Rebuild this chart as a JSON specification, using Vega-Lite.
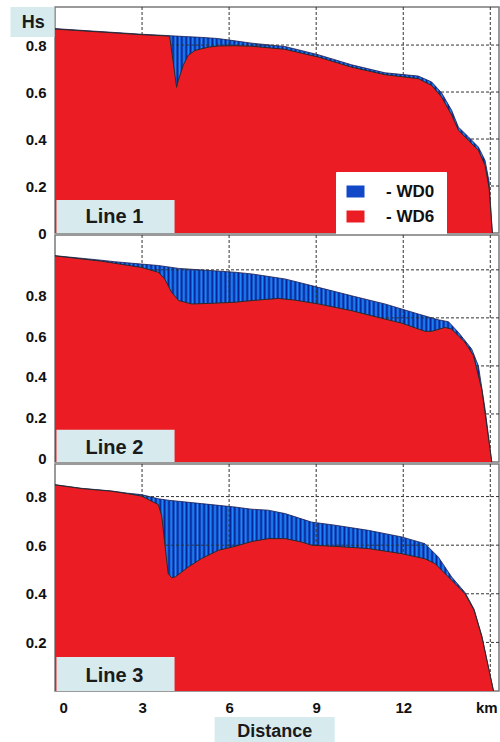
{
  "$schema": "https://vega.github.io/schema/vega-lite/v6.json",
  "padding": {"left": 9, "top": 5, "right": 3, "bottom": 0},
  "background": "white",
  "config": {
    "font": "Liberation Sans",
    "view": {"stroke": "#7a7a7a", "strokeWidth": 1.5},
    "axis": {"labelFont": "Liberation Sans", "labelFontSize": 15, "labelFontWeight": "bold", "labelColor": "#111111", "domain": false, "ticks": false, "grid": false},
    "area": {"opacity": 1, "fill": {"gradient": "linear", "x1": 0, "y1": 0, "x2": 1, "y2": 0, "stops": [
      {"offset":0,"color":"#0a1f94"},{"offset":0.005,"color":"#1e8cff"},{"offset":0.01,"color":"#0a1f94"},{"offset":0.015,"color":"#1e8cff"},
      {"offset":0.02,"color":"#0a1f94"},{"offset":0.025,"color":"#1e8cff"},{"offset":0.03,"color":"#0a1f94"},{"offset":0.035,"color":"#1e8cff"},
      {"offset":0.04,"color":"#0a1f94"},{"offset":0.045,"color":"#1e8cff"},{"offset":0.05,"color":"#0a1f94"},{"offset":0.055,"color":"#1e8cff"},
      {"offset":0.06,"color":"#0a1f94"},{"offset":0.065,"color":"#1e8cff"},{"offset":0.07,"color":"#0a1f94"},{"offset":0.075,"color":"#1e8cff"},
      {"offset":0.08,"color":"#0a1f94"},{"offset":0.085,"color":"#1e8cff"},{"offset":0.09,"color":"#0a1f94"},{"offset":0.095,"color":"#1e8cff"},
      {"offset":0.1,"color":"#0a1f94"},{"offset":0.105,"color":"#1e8cff"},{"offset":0.11,"color":"#0a1f94"},{"offset":0.115,"color":"#1e8cff"},
      {"offset":0.12,"color":"#0a1f94"},{"offset":0.125,"color":"#1e8cff"},{"offset":0.13,"color":"#0a1f94"},{"offset":0.135,"color":"#1e8cff"},
      {"offset":0.14,"color":"#0a1f94"},{"offset":0.145,"color":"#1e8cff"},{"offset":0.15,"color":"#0a1f94"},{"offset":0.155,"color":"#1e8cff"},
      {"offset":0.16,"color":"#0a1f94"},{"offset":0.165,"color":"#1e8cff"},{"offset":0.17,"color":"#0a1f94"},{"offset":0.175,"color":"#1e8cff"},
      {"offset":0.18,"color":"#0a1f94"},{"offset":0.185,"color":"#1e8cff"},{"offset":0.19,"color":"#0a1f94"},{"offset":0.195,"color":"#1e8cff"},
      {"offset":0.2,"color":"#0a1f94"},{"offset":0.205,"color":"#1e8cff"},{"offset":0.21,"color":"#0a1f94"},{"offset":0.215,"color":"#1e8cff"},
      {"offset":0.22,"color":"#0a1f94"},{"offset":0.225,"color":"#1e8cff"},{"offset":0.23,"color":"#0a1f94"},{"offset":0.235,"color":"#1e8cff"},
      {"offset":0.24,"color":"#0a1f94"},{"offset":0.245,"color":"#1e8cff"},{"offset":0.25,"color":"#0a1f94"},{"offset":0.255,"color":"#1e8cff"},
      {"offset":0.26,"color":"#0a1f94"},{"offset":0.265,"color":"#1e8cff"},{"offset":0.27,"color":"#0a1f94"},{"offset":0.275,"color":"#1e8cff"},
      {"offset":0.28,"color":"#0a1f94"},{"offset":0.285,"color":"#1e8cff"},{"offset":0.29,"color":"#0a1f94"},{"offset":0.295,"color":"#1e8cff"},
      {"offset":0.3,"color":"#0a1f94"},{"offset":0.305,"color":"#1e8cff"},{"offset":0.31,"color":"#0a1f94"},{"offset":0.315,"color":"#1e8cff"},
      {"offset":0.32,"color":"#0a1f94"},{"offset":0.325,"color":"#1e8cff"},{"offset":0.33,"color":"#0a1f94"},{"offset":0.335,"color":"#1e8cff"},
      {"offset":0.34,"color":"#0a1f94"},{"offset":0.345,"color":"#1e8cff"},{"offset":0.35,"color":"#0a1f94"},{"offset":0.355,"color":"#1e8cff"},
      {"offset":0.36,"color":"#0a1f94"},{"offset":0.365,"color":"#1e8cff"},{"offset":0.37,"color":"#0a1f94"},{"offset":0.375,"color":"#1e8cff"},
      {"offset":0.38,"color":"#0a1f94"},{"offset":0.385,"color":"#1e8cff"},{"offset":0.39,"color":"#0a1f94"},{"offset":0.395,"color":"#1e8cff"},
      {"offset":0.4,"color":"#0a1f94"},{"offset":0.405,"color":"#1e8cff"},{"offset":0.41,"color":"#0a1f94"},{"offset":0.415,"color":"#1e8cff"},
      {"offset":0.42,"color":"#0a1f94"},{"offset":0.425,"color":"#1e8cff"},{"offset":0.43,"color":"#0a1f94"},{"offset":0.435,"color":"#1e8cff"},
      {"offset":0.44,"color":"#0a1f94"},{"offset":0.445,"color":"#1e8cff"},{"offset":0.45,"color":"#0a1f94"},{"offset":0.455,"color":"#1e8cff"},
      {"offset":0.46,"color":"#0a1f94"},{"offset":0.465,"color":"#1e8cff"},{"offset":0.47,"color":"#0a1f94"},{"offset":0.475,"color":"#1e8cff"},
      {"offset":0.48,"color":"#0a1f94"},{"offset":0.485,"color":"#1e8cff"},{"offset":0.49,"color":"#0a1f94"},{"offset":0.495,"color":"#1e8cff"},
      {"offset":0.5,"color":"#0a1f94"},{"offset":0.505,"color":"#1e8cff"},{"offset":0.51,"color":"#0a1f94"},{"offset":0.515,"color":"#1e8cff"},
      {"offset":0.52,"color":"#0a1f94"},{"offset":0.525,"color":"#1e8cff"},{"offset":0.53,"color":"#0a1f94"},{"offset":0.535,"color":"#1e8cff"},
      {"offset":0.54,"color":"#0a1f94"},{"offset":0.545,"color":"#1e8cff"},{"offset":0.55,"color":"#0a1f94"},{"offset":0.555,"color":"#1e8cff"},
      {"offset":0.56,"color":"#0a1f94"},{"offset":0.565,"color":"#1e8cff"},{"offset":0.57,"color":"#0a1f94"},{"offset":0.575,"color":"#1e8cff"},
      {"offset":0.58,"color":"#0a1f94"},{"offset":0.585,"color":"#1e8cff"},{"offset":0.59,"color":"#0a1f94"},{"offset":0.595,"color":"#1e8cff"},
      {"offset":0.6,"color":"#0a1f94"},{"offset":0.605,"color":"#1e8cff"},{"offset":0.61,"color":"#0a1f94"},{"offset":0.615,"color":"#1e8cff"},
      {"offset":0.62,"color":"#0a1f94"},{"offset":0.625,"color":"#1e8cff"},{"offset":0.63,"color":"#0a1f94"},{"offset":0.635,"color":"#1e8cff"},
      {"offset":0.64,"color":"#0a1f94"},{"offset":0.645,"color":"#1e8cff"},{"offset":0.65,"color":"#0a1f94"},{"offset":0.655,"color":"#1e8cff"},
      {"offset":0.66,"color":"#0a1f94"},{"offset":0.665,"color":"#1e8cff"},{"offset":0.67,"color":"#0a1f94"},{"offset":0.675,"color":"#1e8cff"},
      {"offset":0.68,"color":"#0a1f94"},{"offset":0.685,"color":"#1e8cff"},{"offset":0.69,"color":"#0a1f94"},{"offset":0.695,"color":"#1e8cff"},
      {"offset":0.7,"color":"#0a1f94"},{"offset":0.705,"color":"#1e8cff"},{"offset":0.71,"color":"#0a1f94"},{"offset":0.715,"color":"#1e8cff"},
      {"offset":0.72,"color":"#0a1f94"},{"offset":0.725,"color":"#1e8cff"},{"offset":0.73,"color":"#0a1f94"},{"offset":0.735,"color":"#1e8cff"},
      {"offset":0.74,"color":"#0a1f94"},{"offset":0.745,"color":"#1e8cff"},{"offset":0.75,"color":"#0a1f94"},{"offset":0.755,"color":"#1e8cff"},
      {"offset":0.76,"color":"#0a1f94"},{"offset":0.765,"color":"#1e8cff"},{"offset":0.77,"color":"#0a1f94"},{"offset":0.775,"color":"#1e8cff"},
      {"offset":0.78,"color":"#0a1f94"},{"offset":0.785,"color":"#1e8cff"},{"offset":0.79,"color":"#0a1f94"},{"offset":0.795,"color":"#1e8cff"},
      {"offset":0.8,"color":"#0a1f94"},{"offset":0.805,"color":"#1e8cff"},{"offset":0.81,"color":"#0a1f94"},{"offset":0.815,"color":"#1e8cff"},
      {"offset":0.82,"color":"#0a1f94"},{"offset":0.825,"color":"#1e8cff"},{"offset":0.83,"color":"#0a1f94"},{"offset":0.835,"color":"#1e8cff"},
      {"offset":0.84,"color":"#0a1f94"},{"offset":0.845,"color":"#1e8cff"},{"offset":0.85,"color":"#0a1f94"},{"offset":0.855,"color":"#1e8cff"},
      {"offset":0.86,"color":"#0a1f94"},{"offset":0.865,"color":"#1e8cff"},{"offset":0.87,"color":"#0a1f94"},{"offset":0.875,"color":"#1e8cff"},
      {"offset":0.88,"color":"#0a1f94"},{"offset":0.885,"color":"#1e8cff"},{"offset":0.89,"color":"#0a1f94"},{"offset":0.895,"color":"#1e8cff"},
      {"offset":0.9,"color":"#0a1f94"},{"offset":0.905,"color":"#1e8cff"},{"offset":0.91,"color":"#0a1f94"},{"offset":0.915,"color":"#1e8cff"},
      {"offset":0.92,"color":"#0a1f94"},{"offset":0.925,"color":"#1e8cff"},{"offset":0.93,"color":"#0a1f94"},{"offset":0.935,"color":"#1e8cff"},
      {"offset":0.94,"color":"#0a1f94"},{"offset":0.945,"color":"#1e8cff"},{"offset":0.95,"color":"#0a1f94"},{"offset":0.955,"color":"#1e8cff"},
      {"offset":0.96,"color":"#0a1f94"},{"offset":0.965,"color":"#1e8cff"},{"offset":0.97,"color":"#0a1f94"},{"offset":0.975,"color":"#1e8cff"},
      {"offset":0.98,"color":"#0a1f94"},{"offset":0.985,"color":"#1e8cff"},{"offset":0.99,"color":"#0a1f94"},{"offset":0.995,"color":"#1e8cff"},
      {"offset":1,"color":"#0a1f94"}
    ]}}
  },
  "datasets": {
    "hs": [
      {"line":"Line 1","s":"WD0","km":0,"hs":0.870},{"line":"Line 1","s":"WD0","km":1,"hs":0.862},{"line":"Line 1","s":"WD0","km":2,"hs":0.854},
      {"line":"Line 1","s":"WD0","km":3,"hs":0.846},{"line":"Line 1","s":"WD0","km":3.95,"hs":0.840},{"line":"Line 1","s":"WD0","km":4.5,"hs":0.836},
      {"line":"Line 1","s":"WD0","km":5.0,"hs":0.833},{"line":"Line 1","s":"WD0","km":5.6,"hs":0.828},{"line":"Line 1","s":"WD0","km":6.2,"hs":0.818},
      {"line":"Line 1","s":"WD0","km":6.78,"hs":0.808},{"line":"Line 1","s":"WD0","km":7.92,"hs":0.794},{"line":"Line 1","s":"WD0","km":9.07,"hs":0.759},
      {"line":"Line 1","s":"WD0","km":10.22,"hs":0.716},{"line":"Line 1","s":"WD0","km":11.37,"hs":0.682},{"line":"Line 1","s":"WD0","km":12.52,"hs":0.668},
      {"line":"Line 1","s":"WD0","km":12.98,"hs":0.643},{"line":"Line 1","s":"WD0","km":13.32,"hs":0.597},{"line":"Line 1","s":"WD0","km":13.67,"hs":0.522},
      {"line":"Line 1","s":"WD0","km":13.9,"hs":0.451},{"line":"Line 1","s":"WD0","km":14.25,"hs":0.409},{"line":"Line 1","s":"WD0","km":14.59,"hs":0.366},
      {"line":"Line 1","s":"WD0","km":14.82,"hs":0.309},{"line":"Line 1","s":"WD0","km":14.96,"hs":0.217},{"line":"Line 1","s":"WD0","km":15.07,"hs":0},

      {"line":"Line 1","s":"WD6","km":0,"hs":0.868},{"line":"Line 1","s":"WD6","km":1,"hs":0.860},{"line":"Line 1","s":"WD6","km":2,"hs":0.852},
      {"line":"Line 1","s":"WD6","km":3,"hs":0.844},{"line":"Line 1","s":"WD6","km":3.95,"hs":0.838},{"line":"Line 1","s":"WD6","km":4.19,"hs":0.62},
      {"line":"Line 1","s":"WD6","km":4.25,"hs":0.65},{"line":"Line 1","s":"WD6","km":4.42,"hs":0.714},{"line":"Line 1","s":"WD6","km":4.59,"hs":0.756},
      {"line":"Line 1","s":"WD6","km":4.82,"hs":0.777},{"line":"Line 1","s":"WD6","km":5.28,"hs":0.791},{"line":"Line 1","s":"WD6","km":5.63,"hs":0.796},
      {"line":"Line 1","s":"WD6","km":6.2,"hs":0.797},{"line":"Line 1","s":"WD6","km":6.78,"hs":0.795},{"line":"Line 1","s":"WD6","km":7.92,"hs":0.782},
      {"line":"Line 1","s":"WD6","km":9.07,"hs":0.749},{"line":"Line 1","s":"WD6","km":10.22,"hs":0.706},{"line":"Line 1","s":"WD6","km":11.37,"hs":0.674},
      {"line":"Line 1","s":"WD6","km":12.52,"hs":0.657},{"line":"Line 1","s":"WD6","km":12.98,"hs":0.628},{"line":"Line 1","s":"WD6","km":13.32,"hs":0.579},
      {"line":"Line 1","s":"WD6","km":13.67,"hs":0.502},{"line":"Line 1","s":"WD6","km":13.9,"hs":0.438},{"line":"Line 1","s":"WD6","km":14.25,"hs":0.394},
      {"line":"Line 1","s":"WD6","km":14.59,"hs":0.352},{"line":"Line 1","s":"WD6","km":14.82,"hs":0.288},{"line":"Line 1","s":"WD6","km":14.96,"hs":0.189},
      {"line":"Line 1","s":"WD6","km":15.07,"hs":0},

      {"line":"Line 2","s":"WD0","km":0,"hs":0.859},{"line":"Line 2","s":"WD0","km":1.6,"hs":0.840},{"line":"Line 2","s":"WD0","km":2.05,"hs":0.834},
      {"line":"Line 2","s":"WD0","km":2.98,"hs":0.824},{"line":"Line 2","s":"WD0","km":3.56,"hs":0.818},{"line":"Line 2","s":"WD0","km":4.26,"hs":0.806},
      {"line":"Line 2","s":"WD0","km":5.0,"hs":0.800},{"line":"Line 2","s":"WD0","km":6.2,"hs":0.790},{"line":"Line 2","s":"WD0","km":6.78,"hs":0.783},
      {"line":"Line 2","s":"WD0","km":7.93,"hs":0.762},{"line":"Line 2","s":"WD0","km":9.08,"hs":0.727},{"line":"Line 2","s":"WD0","km":10.22,"hs":0.692},
      {"line":"Line 2","s":"WD0","km":11.37,"hs":0.658},{"line":"Line 2","s":"WD0","km":12.52,"hs":0.616},{"line":"Line 2","s":"WD0","km":13.21,"hs":0.592},
      {"line":"Line 2","s":"WD0","km":13.56,"hs":0.584},{"line":"Line 2","s":"WD0","km":13.9,"hs":0.54},{"line":"Line 2","s":"WD0","km":14.36,"hs":0.47},
      {"line":"Line 2","s":"WD0","km":14.59,"hs":0.40},{"line":"Line 2","s":"WD0","km":14.82,"hs":0.22},{"line":"Line 2","s":"WD0","km":15.05,"hs":0},

      {"line":"Line 2","s":"WD6","km":0,"hs":0.858},{"line":"Line 2","s":"WD6","km":1.6,"hs":0.836},{"line":"Line 2","s":"WD6","km":2.98,"hs":0.810},
      {"line":"Line 2","s":"WD6","km":3.56,"hs":0.790},{"line":"Line 2","s":"WD6","km":3.78,"hs":0.762},{"line":"Line 2","s":"WD6","km":4.02,"hs":0.706},
      {"line":"Line 2","s":"WD6","km":4.26,"hs":0.672},{"line":"Line 2","s":"WD6","km":4.71,"hs":0.658},{"line":"Line 2","s":"WD6","km":5.29,"hs":0.660},
      {"line":"Line 2","s":"WD6","km":6.2,"hs":0.665},{"line":"Line 2","s":"WD6","km":6.78,"hs":0.672},{"line":"Line 2","s":"WD6","km":7.7,"hs":0.681},
      {"line":"Line 2","s":"WD6","km":8.26,"hs":0.674},{"line":"Line 2","s":"WD6","km":9.08,"hs":0.658},{"line":"Line 2","s":"WD6","km":10.22,"hs":0.630},
      {"line":"Line 2","s":"WD6","km":11.37,"hs":0.595},{"line":"Line 2","s":"WD6","km":11.95,"hs":0.578},{"line":"Line 2","s":"WD6","km":12.75,"hs":0.544},
      {"line":"Line 2","s":"WD6","km":12.98,"hs":0.544},{"line":"Line 2","s":"WD6","km":13.44,"hs":0.560},{"line":"Line 2","s":"WD6","km":13.67,"hs":0.553},
      {"line":"Line 2","s":"WD6","km":14.13,"hs":0.498},{"line":"Line 2","s":"WD6","km":14.42,"hs":0.443},{"line":"Line 2","s":"WD6","km":14.71,"hs":0.30},
      {"line":"Line 2","s":"WD6","km":15.05,"hs":0},

      {"line":"Line 3","s":"WD0","km":0,"hs":0.849},{"line":"Line 3","s":"WD0","km":0.91,"hs":0.834},{"line":"Line 3","s":"WD0","km":1.95,"hs":0.823},
      {"line":"Line 3","s":"WD0","km":2.5,"hs":0.814},{"line":"Line 3","s":"WD0","km":2.98,"hs":0.808},{"line":"Line 3","s":"WD0","km":3.56,"hs":0.791},
      {"line":"Line 3","s":"WD0","km":3.9,"hs":0.785},{"line":"Line 3","s":"WD0","km":5.05,"hs":0.771},{"line":"Line 3","s":"WD0","km":6.2,"hs":0.757},
      {"line":"Line 3","s":"WD0","km":6.78,"hs":0.748},{"line":"Line 3","s":"WD0","km":7.35,"hs":0.744},{"line":"Line 3","s":"WD0","km":7.93,"hs":0.730},
      {"line":"Line 3","s":"WD0","km":8.84,"hs":0.695},{"line":"Line 3","s":"WD0","km":9.66,"hs":0.682},{"line":"Line 3","s":"WD0","km":10.8,"hs":0.661},
      {"line":"Line 3","s":"WD0","km":11.95,"hs":0.634},{"line":"Line 3","s":"WD0","km":12.75,"hs":0.606},{"line":"Line 3","s":"WD0","km":13.21,"hs":0.551},
      {"line":"Line 3","s":"WD0","km":13.67,"hs":0.469},{"line":"Line 3","s":"WD0","km":14.13,"hs":0.405},{"line":"Line 3","s":"WD0","km":14.44,"hs":0.337},
      {"line":"Line 3","s":"WD0","km":14.71,"hs":0.226},{"line":"Line 3","s":"WD0","km":15.11,"hs":0},

      {"line":"Line 3","s":"WD6","km":0,"hs":0.848},{"line":"Line 3","s":"WD6","km":0.91,"hs":0.833},{"line":"Line 3","s":"WD6","km":1.95,"hs":0.822},
      {"line":"Line 3","s":"WD6","km":2.5,"hs":0.812},{"line":"Line 3","s":"WD6","km":2.98,"hs":0.802},{"line":"Line 3","s":"WD6","km":3.56,"hs":0.767},
      {"line":"Line 3","s":"WD6","km":3.68,"hs":0.72},{"line":"Line 3","s":"WD6","km":3.79,"hs":0.60},{"line":"Line 3","s":"WD6","km":3.9,"hs":0.483},
      {"line":"Line 3","s":"WD6","km":4.02,"hs":0.466},{"line":"Line 3","s":"WD6","km":4.15,"hs":0.47},{"line":"Line 3","s":"WD6","km":4.59,"hs":0.510},
      {"line":"Line 3","s":"WD6","km":5.05,"hs":0.545},{"line":"Line 3","s":"WD6","km":5.63,"hs":0.579},{"line":"Line 3","s":"WD6","km":6.2,"hs":0.595},
      {"line":"Line 3","s":"WD6","km":6.78,"hs":0.615},{"line":"Line 3","s":"WD6","km":7.35,"hs":0.627},{"line":"Line 3","s":"WD6","km":7.93,"hs":0.627},
      {"line":"Line 3","s":"WD6","km":8.5,"hs":0.613},{"line":"Line 3","s":"WD6","km":8.84,"hs":0.600},{"line":"Line 3","s":"WD6","km":9.66,"hs":0.595},
      {"line":"Line 3","s":"WD6","km":10.8,"hs":0.586},{"line":"Line 3","s":"WD6","km":11.95,"hs":0.565},{"line":"Line 3","s":"WD6","km":12.75,"hs":0.544},
      {"line":"Line 3","s":"WD6","km":13.1,"hs":0.524},{"line":"Line 3","s":"WD6","km":13.67,"hs":0.456},{"line":"Line 3","s":"WD6","km":14.13,"hs":0.400},
      {"line":"Line 3","s":"WD6","km":14.44,"hs":0.332},{"line":"Line 3","s":"WD6","km":14.71,"hs":0.222},{"line":"Line 3","s":"WD6","km":15.11,"hs":0}
    ],
    "gx": [{"km":3},{"km":6},{"km":9},{"km":12},{"km":15}],
    "gy": [{"hs":0.2},{"hs":0.4},{"hs":0.6},{"hs":0.8}],
    "one": [{}],
    "leg": [{"s":"WD0"},{"s":"WD6"}]
  },
  "vconcat": [
    {
      "width": 444, "height": 226,
      "layer": [
        {"data": {"name": "hs"}, "transform": [{"filter": "datum.line === 'Line 1' && datum.s === 'WD0'"}],
         "mark": {"type": "area", "opacity": 1, "line": {"color": "#1b1b50", "strokeWidth": 0.8}},
         "encoding": {
           "x": {"field": "km", "type": "quantitative", "scale": {"domain": [0, 15.3], "nice": false, "zero": false}, "axis": null},
           "y": {"field": "hs", "type": "quantitative", "scale": {"domain": [0, 0.962], "nice": false}, "axis": {"values": [0, 0.2, 0.4, 0.6, 0.8], "format": ".1~f", "labelPadding": 9, "title": null}}
         }},
        {"data": {"name": "gx"}, "mark": {"type": "rule", "color": "#333333", "strokeDash": [3, 2], "strokeWidth": 1}, "encoding": {"x": {"field": "km", "type": "quantitative"}}},
        {"data": {"name": "gy"}, "mark": {"type": "rule", "color": "#333333", "strokeDash": [3, 2], "strokeWidth": 1}, "encoding": {"y": {"field": "hs", "type": "quantitative"}}},
        {"data": {"name": "hs"}, "transform": [{"filter": "datum.line === 'Line 1' && datum.s === 'WD6'"}],
         "mark": {"type": "area", "fill": "#ec1c24", "opacity": 1, "line": {"color": "#2a2a2a", "strokeWidth": 1}},
         "encoding": {"x": {"field": "km", "type": "quantitative"}, "y": {"field": "hs", "type": "quantitative"}}},
        {"data": {"name": "one"}, "mark": {"type": "rect", "fill": "#d7ebee"},
         "encoding": {"x": {"datum": 0.05}, "x2": {"datum": 4.12}, "y": {"datum": 0}, "y2": {"datum": 0.14}}},
        {"data": {"name": "one"}, "mark": {"type": "text", "text": "Line 1", "fontSize": 20, "fontWeight": "bold", "color": "#1a1a1a"},
         "encoding": {"x": {"datum": 2.05}, "y": {"datum": 0.069}}},
        {"data": {"name": "one"}, "mark": {"type": "rect", "fill": "#d7ebee"},
         "encoding": {"x": {"datum": -1.534}, "x2": {"datum": -0.02}, "y": {"datum": 0.834}, "y2": {"datum": 0.962}}},
        {"data": {"name": "one"}, "mark": {"type": "text", "text": "Hs", "fontSize": 18, "fontWeight": "bold", "color": "#1a1a1a"},
         "encoding": {"x": {"datum": -0.75}, "y": {"datum": 0.894}}},
        {"data": {"name": "leg"}, "mark": {"type": "square", "opacity": 0},
         "encoding": {
           "x": {"datum": 1}, "y": {"datum": 0.1},
           "color": {"field": "s", "type": "nominal", "scale": {"domain": ["WD0", "WD6"], "range": ["#1048c8", "#ec1c24"]},
             "legend": {"title": null, "orient": "none", "legendX": 281, "legendY": 165, "direction": "vertical", "padding": 11,
               "fillColor": "white", "strokeColor": "white", "cornerRadius": 0,
               "symbolType": "M-1.5,-1H1.5V1H-1.5Z", "symbolSize": 144, "symbolStrokeWidth": 0, "symbolOpacity": 1,
               "labelFont": "Liberation Sans", "labelFontSize": 17, "labelFontWeight": "bold", "labelColor": "#111111",
               "labelOffset": 22, "rowPadding": 7,
               "labelExpr": "'- ' + datum.label + '\u00a0\u00a0\u00a0\u00a0'"}
           }
         }}
      ]
    },
    {
      "width": 444, "height": 227,
      "layer": [
        {"layer": [
          {"data": {"name": "hs"}, "transform": [{"filter": "datum.line === 'Line 2' && datum.s === 'WD0'"}],
           "mark": {"type": "area", "opacity": 1, "line": {"color": "#1b1b50", "strokeWidth": 0.8}},
           "encoding": {
             "x": {"field": "km", "type": "quantitative", "scale": {"domain": [0, 15.3], "nice": false, "zero": false}, "axis": null},
             "y": {"field": "hs", "type": "quantitative", "scale": {"domain": [0, 0.945], "nice": false}, "axis": null}
           }},
          {"data": {"name": "gx"}, "mark": {"type": "rule", "color": "#333333", "strokeDash": [3, 2], "strokeWidth": 1}, "encoding": {"x": {"field": "km", "type": "quantitative"}}},
          {"data": {"name": "gy"}, "mark": {"type": "rule", "color": "#333333", "strokeDash": [3, 2], "strokeWidth": 1}, "encoding": {"y": {"field": "hs", "type": "quantitative"}}},
          {"data": {"name": "hs"}, "transform": [{"filter": "datum.line === 'Line 2' && datum.s === 'WD6'"}],
           "mark": {"type": "area", "fill": "#ec1c24", "opacity": 1, "line": {"color": "#2a2a2a", "strokeWidth": 1}},
           "encoding": {"x": {"field": "km", "type": "quantitative"}, "y": {"field": "hs", "type": "quantitative"}}},
          {"data": {"name": "one"}, "mark": {"type": "rect", "fill": "#d7ebee"},
           "encoding": {"x": {"datum": 0.05}, "x2": {"datum": 4.12}, "y": {"datum": 0}, "y2": {"datum": 0.134}}},
          {"data": {"name": "one"}, "mark": {"type": "text", "text": "Line 2", "fontSize": 20, "fontWeight": "bold", "color": "#1a1a1a"},
           "encoding": {"x": {"datum": 2.05}, "y": {"datum": 0.06}}}
        ]},
        {"data": {"name": "one"}, "mark": {"type": "point", "opacity": 0},
         "encoding": {"y": {"datum": 0.5, "type": "quantitative", "scale": {"domain": [-0.017, 1.096], "nice": false, "zero": false},
           "axis": {"orient": "left", "values": [0, 0.2, 0.4, 0.6, 0.8], "format": ".1~f", "labelPadding": 9, "title": null}}}}
      ],
      "resolve": {"scale": {"y": "independent"}, "axis": {"y": "independent"}}
    },
    {
      "width": 444, "height": 227,
      "layer": [
        {"data": {"name": "hs"}, "transform": [{"filter": "datum.line === 'Line 3' && datum.s === 'WD0'"}],
         "mark": {"type": "area", "opacity": 1, "line": {"color": "#1b1b50", "strokeWidth": 0.8}},
         "encoding": {
           "x": {"field": "km", "type": "quantitative", "scale": {"domain": [0, 15.3], "nice": false, "zero": false},
             "axis": {"values": [0, 3, 6, 9, 12, 15], "labelExpr": "datum.value == 15 ? '' : datum.label", "labelFlush": 1, "labelFlushOffset": -4, "labelPadding": 9, "title": null}},
           "y": {"field": "hs", "type": "quantitative", "scale": {"domain": [0, 0.934], "nice": false},
             "axis": {"values": [0.2, 0.4, 0.6, 0.8], "format": ".1~f", "labelPadding": 9, "title": null}}
         }},
        {"data": {"name": "gx"}, "mark": {"type": "rule", "color": "#333333", "strokeDash": [3, 2], "strokeWidth": 1}, "encoding": {"x": {"field": "km", "type": "quantitative"}}},
        {"data": {"name": "gy"}, "mark": {"type": "rule", "color": "#333333", "strokeDash": [3, 2], "strokeWidth": 1}, "encoding": {"y": {"field": "hs", "type": "quantitative"}}},
        {"data": {"name": "hs"}, "transform": [{"filter": "datum.line === 'Line 3' && datum.s === 'WD6'"}],
         "mark": {"type": "area", "fill": "#ec1c24", "opacity": 1, "line": {"color": "#2a2a2a", "strokeWidth": 1}},
         "encoding": {"x": {"field": "km", "type": "quantitative"}, "y": {"field": "hs", "type": "quantitative"}}},
        {"data": {"name": "one"}, "mark": {"type": "rect", "fill": "#d7ebee"},
         "encoding": {"x": {"datum": 0.05}, "x2": {"datum": 4.12}, "y": {"datum": 0}, "y2": {"datum": 0.14}}},
        {"data": {"name": "one"}, "mark": {"type": "text", "text": "Line 3", "fontSize": 20, "fontWeight": "bold", "color": "#1a1a1a"},
         "encoding": {"x": {"datum": 2.05}, "y": {"datum": 0.063}}},
        {"data": {"name": "one"}, "mark": {"type": "text", "text": "km", "fontSize": 15, "fontWeight": "bold", "color": "#111111"},
         "encoding": {"x": {"datum": 14.88}, "y": {"datum": -0.071}}},
        {"data": {"name": "one"}, "mark": {"type": "rect", "fill": "#d7ebee"},
         "encoding": {"x": {"datum": 5.5}, "x2": {"datum": 9.64}, "y": {"datum": -0.107}, "y2": {"datum": -0.218}}},
        {"data": {"name": "one"}, "mark": {"type": "text", "text": "Distance", "fontSize": 18, "fontWeight": "bold", "color": "#1a1a1a"},
         "encoding": {"x": {"datum": 7.57}, "y": {"datum": -0.168}}}
      ]
    }
  ],
  "spacing": 2,
  "bounds": "flush",
  "resolve": {"scale": {"x": "independent", "y": "independent"}, "legend": {"color": "independent"}}
}
